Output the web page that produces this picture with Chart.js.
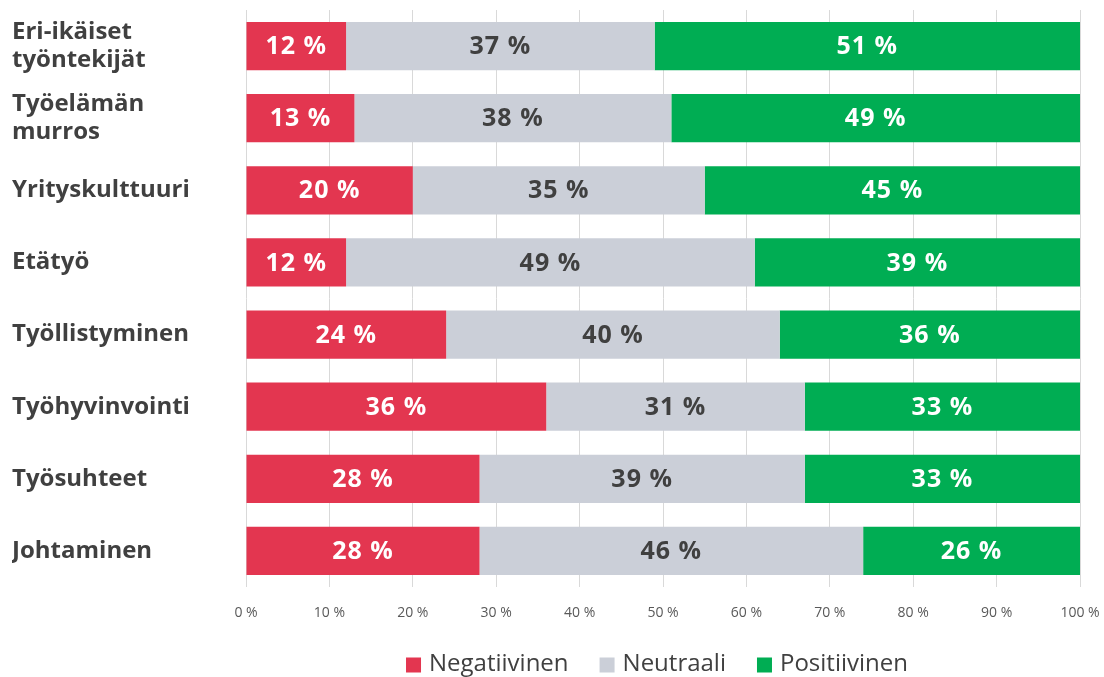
<!DOCTYPE html>
<html>
<head>
<meta charset="utf-8">
<script src="https://cdn.jsdelivr.net/npm/chart.js@4.4.1/dist/chart.umd.min.js"></script>
<style>
html,body{margin:0;padding:0;background:#fff;}
#wrap{width:1104px;height:677px;position:relative;}
</style>
</head>
<body>
<div id="wrap"><canvas id="c"></canvas></div>
<script>
const categories = [
  ["Eri-ikäiset", "työntekijät"],
  ["Työelämän", "murros"],
  "Yrityskulttuuri",
  "Etätyö",
  "Työllistyminen",
  "Työhyvinvointi",
  "Työsuhteet",
  "Johtaminen"
];
const seriesNames = ["Negatiivinen", "Neutraali", "Positiivinen"];
const negatiivinen = [12, 13, 20, 12, 24, 36, 28, 28];
const neutraali    = [37, 38, 35, 49, 40, 31, 39, 46];
const positiivinen = [51, 49, 45, 39, 36, 33, 33, 26];
const xTicks = [0, 10, 20, 30, 40, 50, 60, 70, 80, 90, 100];

const colors = ["#E33650", "#CBCFD8", "#00AD53"];
const labelColors = ["#FFFFFF", "#404040", "#FFFFFF"];
const FONT = "'Open Sans', 'DejaVu Sans', sans-serif";

const barLabels = {
  id: 'barLabels',
  afterDatasetsDraw(chart) {
    const ctx = chart.ctx;
    ctx.save();
    ctx.font = "bold 25px " + FONT;
    try { ctx.letterSpacing = '1px'; } catch (e) {}
    ctx.textAlign = 'center';
    ctx.textBaseline = 'middle';
    chart.data.datasets.forEach((ds, i) => {
      const meta = chart.getDatasetMeta(i);
      meta.data.forEach((bar, j) => {
        const v = ds.data[j];
        const cx = (bar.x + bar.base) / 2;
        ctx.fillStyle = labelColors[i];
        ctx.fillText(v + ' %', cx, bar.y + 1);
      });
    });
    ctx.restore();
  }
};

// custom bottom legend (drawn from the chart's datasets)
const bottomLegend = {
  id: 'bottomLegend',
  afterDraw(chart) {
    const ctx = chart.ctx;
    const box = 15, gap = 8, spacing = 31;
    ctx.save();
    ctx.font = "24px " + FONT;
    ctx.textBaseline = 'middle';
    const items = chart.data.datasets.map(ds => ({
      text: ds.label, color: ds.backgroundColor, w: ctx.measureText(ds.label).width
    }));
    const total = items.reduce((s, it) => s + box + gap + it.w, 0) + spacing * (items.length - 1);
    const cx = (chart.chartArea.left + chart.chartArea.right) / 2 - 6;
    let x = cx - total / 2;
    const y = chart.chartArea.bottom + 78;
    items.forEach(it => {
      ctx.fillStyle = it.color;
      ctx.fillRect(x, y - box / 2, box, box);
      ctx.fillStyle = '#404040';
      ctx.fillText(it.text, x + box + gap, y - 1);
      x += box + gap + it.w + spacing;
    });
    ctx.restore();
  }
};

new Chart(document.getElementById('c'), {
  type: 'bar',
  data: {
    labels: categories,
    datasets: [
      { label: seriesNames[0], data: negatiivinen, backgroundColor: colors[0] },
      { label: seriesNames[1], data: neutraali, backgroundColor: colors[1] },
      { label: seriesNames[2], data: positiivinen, backgroundColor: colors[2] }
    ]
  },
  options: {
    indexAxis: 'y',
    responsive: true,
    maintainAspectRatio: false,
    animation: false,
    datasets: { bar: { barPercentage: 0.67, categoryPercentage: 1.0 } },
    layout: { padding: { left: 12, right: 24, top: 10, bottom: 50 } },
    scales: {
      x: {
        stacked: true,
        min: 0, max: 100,
        afterBuildTicks(scale) { scale.ticks = xTicks.map(v => ({ value: v })); },
        afterFit(scale) { scale.height = 40; scale.paddingLeft = 0; scale.paddingRight = 0; },
        grid: { color: '#D9D9D9', drawTicks: false, lineWidth: 1 },
        border: { display: false },
        ticks: {
          padding: 18,
          color: '#595959',
          font: { family: FONT, size: 14 },
          callback: v => v + ' %'
        }
      },
      y: {
        stacked: true,
        afterFit(scale) { scale.width = 234; scale.paddingTop = 0; scale.paddingBottom = 0; },
        grid: { display: false },
        border: { display: false },
        ticks: {
          crossAlign: 'far',
          color: '#404040',
          padding: 0,
          font: { family: FONT, size: 24, weight: 'bold', lineHeight: 1.17 }
        }
      }
    },
    plugins: {
      legend: { display: false },
      tooltip: { enabled: false }
    }
  },
  plugins: [barLabels, bottomLegend]
});
</script>
</body>
</html>
